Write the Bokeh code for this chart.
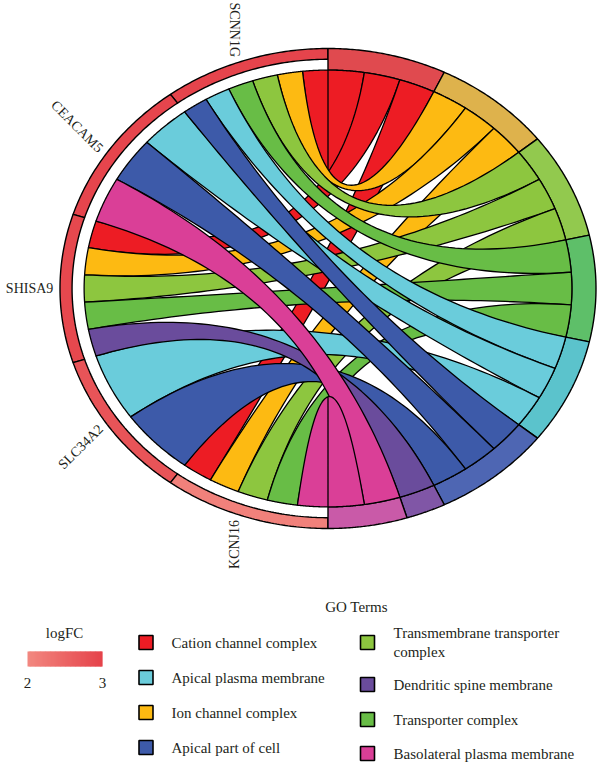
import numpy as np
from bokeh.plotting import figure
from bokeh.models import Range1d
from bokeh.core.properties import value
from bokeh.embed import file_html
from bokeh.resources import INLINE

# ---------------- data ----------------
genes = ["SCNN1G", "CEACAM5", "SHISA9", "SLC34A2", "KCNJ16"]
logfc = [2.97, 2.95, 2.92, 2.75, 2.1]

terms = ["Cation channel complex", "Ion channel complex",
         "Transmembrane transporter complex", "Transporter complex",
         "Apical plasma membrane", "Apical part of cell",
         "Dendritic spine membrane", "Basolateral plasma membrane"]
term_colors = ["#ED1C24", "#FDBA12", "#8DC63F", "#68BD46",
               "#6ACCDB", "#3D5AA9", "#6A4C9C", "#DA3F97"]
term_ring_colors = ["#E04A4F", "#DEB24C", "#92C94E", "#5EBF69",
                    "#5BC3CC", "#4E66B3", "#8056A6", "#C95AA8"]

cation_genes = ["SCNN1G", "SHISA9", "KCNJ16"]
ion_genes = ["SCNN1G", "SHISA9", "KCNJ16"]
transmembrane_genes = ["SCNN1G", "SHISA9", "KCNJ16"]
transporter_genes = ["SCNN1G", "SHISA9", "KCNJ16"]
apical_pm_genes = ["SCNN1G", "CEACAM5", "SLC34A2"]
apical_part_genes = ["SCNN1G", "CEACAM5", "SLC34A2"]
dendritic_genes = ["SHISA9"]
basolateral_genes = ["CEACAM5", "KCNJ16"]
term_genes = [cation_genes, ion_genes, transmembrane_genes, transporter_genes,
              apical_pm_genes, apical_part_genes, dendritic_genes, basolateral_genes]

legend_left = ["Cation channel complex", "Apical plasma membrane",
               "Ion channel complex", "Apical part of cell"]
legend_right = ["Transmembrane transporter complex", "Dendritic spine membrane",
                "Transporter complex", "Basolateral plasma membrane"]
logfc_ticks = [2, 3]
low_color = (242, 136, 128)
high_color = (229, 66, 74)

# ---------------- layout ----------------
W, H = 600, 764
CX, CY = 327.5, 288.0          # circle centre in pixels
SX, SY = 268.0, 240.0          # pixels per unit radius
R_OUT, R_GENE_IN, R_IN = 1.0, 0.955, 0.91
FONT = value("Liberation Serif")
TXT = "#231F20"


def X(px):
    return (px - CX) / SX


def Y(py):
    return (CY - py) / SY


def arc(r, a0, a1, n=60):
    t = np.radians(np.linspace(a0, a1, n))
    return list(r * np.cos(t)), list(r * np.sin(t))


def pt(r, a):
    t = np.radians(a)
    return r * np.cos(t), r * np.sin(t)


def bez(p0, p2, n=60):
    t = np.linspace(0, 1, n)
    xs = (1 - t) ** 2 * p0[0] + t ** 2 * p2[0]
    ys = (1 - t) ** 2 * p0[1] + t ** 2 * p2[1]
    return list(xs), list(ys)


def ring(r0, r1, a0, a1):
    xo, yo = arc(r1, a0, a1)
    xi, yi = arc(r0, a1, a0)
    return xo + xi, yo + yi


def mix(c0, c1, f):
    return "#%02x%02x%02x" % tuple(int(round(a + (b - a) * f)) for a, b in zip(c0, c1))


p = figure(width=W, height=H, output_backend="svg", toolbar_location=None,
           x_range=Range1d(-CX / SX, (W - CX) / SX),
           y_range=Range1d(-(H - CY) / SY, CY / SY),
           min_border=0)
p.axis.visible = False
p.grid.visible = False
p.outline_line_color = None
p.background_fill_color = "white"

# ---------------- angles ----------------
gene_span = 180.0 / len(genes)
n_links = sum(len(g) for g in term_genes)
w_term = 180.0 / n_links

gene_slots = {}
for gi, g in enumerate(genes):
    tlist = [ti for ti in range(len(terms)) if g in term_genes[ti]]
    k = len(tlist)
    for j, ti in enumerate(tlist):
        a0 = 90 + gi * gene_span + j * gene_span / k
        gene_slots[(g, ti)] = (a0, a0 + gene_span / k)

term_slots = {}
term_ranges = []
c = 0
for ti in range(len(terms)):
    start = c
    for g in term_genes[ti]:
        term_slots[(g, ti)] = (90 - (c + 1) * w_term, 90 - c * w_term)
        c += 1
    term_ranges.append((90 - c * w_term, 90 - start * w_term))

# ---------------- rings ----------------
gx, gy, gc = [], [], []
for gi, g in enumerate(genes):
    xs, ys = ring(R_GENE_IN, R_OUT, 90 + gi * gene_span, 90 + (gi + 1) * gene_span)
    gx.append(xs); gy.append(ys)
    gc.append(mix(low_color, high_color, (logfc[gi] - logfc_ticks[0]) / (logfc_ticks[1] - logfc_ticks[0])))
p.patches(gx, gy, fill_color=gc, line_color="black", line_width=1.4)

tx, ty = [], []
for (a0, a1) in term_ranges:
    xs, ys = ring(R_IN, R_OUT, a0, a1)
    tx.append(xs); ty.append(ys)
p.patches(tx, ty, fill_color=term_ring_colors, line_color="black", line_width=1.4)

# ---------------- ribbons ----------------
for ti in range(len(terms)):
    rx, ry = [], []
    for g in term_genes[ti]:
        ga0, ga1 = gene_slots[(g, ti)]
        ta0, ta1 = term_slots[(g, ti)]
        x1, y1 = arc(R_IN, ga0, ga1)
        x2, y2 = bez(pt(R_IN, ga1), pt(R_IN, ta0))
        x3, y3 = arc(R_IN, ta0, ta1)
        x4, y4 = bez(pt(R_IN, ta1), pt(R_IN, ga0))
        rx.append(x1 + x2 + x3 + x4)
        ry.append(y1 + y2 + y3 + y4)
    p.patches(rx, ry, fill_color=term_colors[ti], line_color="black",
              line_width=1.3, line_join="round")

# ---------------- gene labels ----------------
lx, ly, la = [], [], []
for gi, g in enumerate(genes):
    mid = 90 + (gi + 0.5) * gene_span
    a = mid + 1.8 * np.sign(180 - mid)
    lx.append(1.025 * np.cos(np.radians(a)))
    ly.append(1.025 * np.sin(np.radians(a)))
    la.append(45 * round((mid - 180) / 45))
p.text(x=lx, y=ly, text=genes, angle=la, angle_units="deg", text_font=FONT,
       text_font_size="14px", text_align="right", text_baseline="middle", text_color=TXT)

# ---------------- legend ----------------
p.text(x=[X(356)], y=[Y(606)], text=["GO Terms"], text_font=FONT, text_font_size="15px",
       text_align="center", text_baseline="middle", text_color=TXT)

color_of = dict(zip(terms, term_colors))
left_rows = [642, 677, 712, 747]
right_rows = [642, 684, 719, 753]
p.scatter(x=[X(145.5)] * 4, y=[Y(v) for v in left_rows], marker="square", size=14,
          fill_color=[color_of[t] for t in legend_left], line_color="black", line_width=1.6)
p.scatter(x=[X(367)] * 4, y=[Y(v) for v in right_rows], marker="square", size=14,
          fill_color=[color_of[t] for t in legend_right], line_color="black", line_width=1.6)
p.text(x=[X(171)] * 4, y=[Y(v) for v in left_rows], text=legend_left, text_font=FONT,
       text_font_size="15px", text_align="left", text_baseline="middle", text_color=TXT)

right_txt, right_y = [], []
for t, v in zip(legend_right, right_rows):
    if len(t) > 28:
        words = t.split(" ")
        right_txt += [" ".join(words[:-1]), words[-1]]
        right_y += [v - 10, v + 9]
    else:
        right_txt.append(t)
        right_y.append(v)
p.text(x=[X(393)] * len(right_txt), y=[Y(v) for v in right_y], text=right_txt, text_font=FONT,
       text_font_size="15px", text_align="left", text_baseline="middle", text_color=TXT)

# logFC colour bar
p.text(x=[X(64)], y=[Y(632)], text=["logFC"], text_font=FONT, text_font_size="15px",
       text_align="center", text_baseline="middle", text_color=TXT)
nb = 60
bx0, bx1 = 27.0, 102.0
edges = np.linspace(bx0, bx1, nb + 1)
step = edges[1] - edges[0]
p.quad(left=[X(e) for e in edges[:-1]], right=[X(e + step * 1.8) if i < nb - 1 else X(e + step) for i, e in enumerate(edges[:-1])],
       top=Y(651), bottom=Y(666),
       fill_color=[mix(low_color, high_color, (i + 0.5) / nb) for i in range(nb)],
       line_color=None)
p.text(x=[X(bx0), X(bx1)], y=[Y(682)] * 2, text=[str(v) for v in logfc_ticks], text_font=FONT,
       text_font_size="15px", text_align="center", text_baseline="middle", text_color=TXT)

open("out.html", "w").write(file_html(p, INLINE))
